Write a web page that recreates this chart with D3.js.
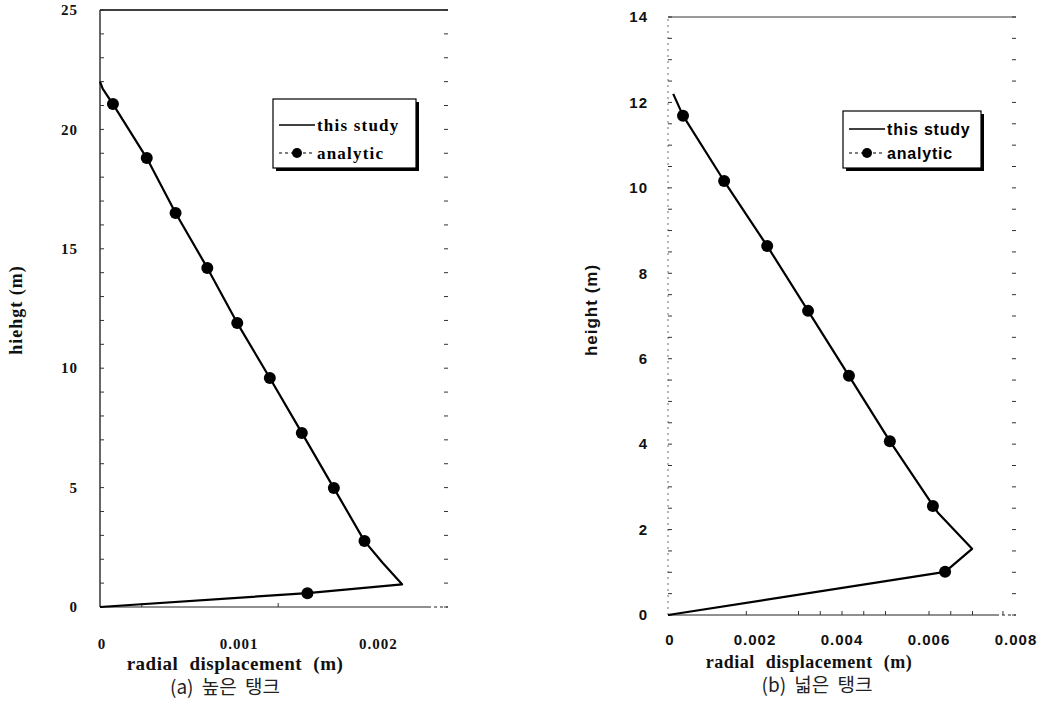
<!DOCTYPE html>
<html><head><meta charset="utf-8">
<script src="https://cdn.jsdelivr.net/npm/d3@7"></script>
<style>body{margin:0;background:#fff}svg{display:block}</style>
</head><body>
<svg id="c" width="1045" height="722"></svg>
<script>
// ---- Data (a) tall tank ----
const aLineX = [0, 0.00149, 0.00217, 0.00203, 0.0019, 0.00168, 0.00145, 0.00122, 0.000986, 0.000771, 0.000543, 0.000336, 0.000093, 0.00002, 0];
const aLineY = [0, 0.58, 0.95, 1.85, 2.76, 4.98, 7.29, 9.59, 11.89, 14.2, 16.5, 18.8, 21.06, 21.7, 22];
const aPtX = [0.00149, 0.0019, 0.00168, 0.00145, 0.00122, 0.000986, 0.000771, 0.000543, 0.000336, 0.000093];
const aPtY = [0.58, 2.76, 4.98, 7.29, 9.59, 11.89, 14.2, 16.5, 18.8, 21.06];
const aXTicks = [0, 0.001, 0.002];
const aXTickLabels = ["0", "0.001", "0.002"];
const aYTicks = [0, 5, 10, 15, 20, 25];
// ---- Data (b) wide tank ----
const bLineX = [0, 0.00637, 0.00699, 0.0062, 0.0051, 0.00416, 0.00322, 0.00228, 0.00129, 0.000345, 0.00012];
const bLineY = [0, 1.01, 1.55, 2.4, 4.07, 5.6, 7.12, 8.64, 10.16, 11.69, 12.2];
const bPtX = [0.00637, 0.00609, 0.0051, 0.00416, 0.00322, 0.00228, 0.00129, 0.000345];
const bPtY = [1.01, 2.55, 4.07, 5.6, 7.12, 8.64, 10.16, 11.69];
const bXTicks = [0, 0.002, 0.004, 0.006, 0.008];
const bXTickLabels = ["0", "0.002", "0.004", "0.006", "0.008"];
const bYTicks = [0, 2, 4, 6, 8, 10, 12, 14];
const seriesNames = ["this study", "analytic"];

const svg = d3.select("#c");
const serif = "'Liberation Serif','Times New Roman',serif";
const sans = "'Liberation Sans',Arial,sans-serif";
const kr = "'Noto Sans CJK KR',sans-serif";

function panel(o) {
  const x = d3.scaleLinear().domain(o.xDom).range(o.xr);
  const y = d3.scaleLinear().domain(o.yDom).range(o.yr);
  const g = svg.append("g");
  g.append("line").attr("x1", o.xr[0]).attr("x2", o.xr[1]).attr("y1", o.yr[1]).attr("y2", o.yr[1])
    .attr("stroke", o.frameColor).attr("stroke-width", 1.5);
  g.append("line").attr("x1", o.xr[0]).attr("x2", o.xr[0]).attr("y1", o.yr[0]).attr("y2", o.yr[1])
    .attr("stroke", o.leftAxisColor).attr("stroke-width", 1.2).attr("stroke-dasharray", o.leftDash || null);
  g.append("line").attr("x1", o.xr[0]).attr("x2", o.xr[1] - 20).attr("y1", o.yr[0]).attr("y2", o.yr[0])
    .attr("stroke", "#222").attr("stroke-width", 1.2);
  g.append("line").attr("x1", o.xr[1] - 20).attr("x2", o.xr[1]).attr("y1", o.yr[0]).attr("y2", o.yr[0])
    .attr("stroke", "#222").attr("stroke-width", 1.2).attr("stroke-dasharray", "3,3");
  const minor = d3.range(o.yDom[0], o.yDom[1] + 1e-9, o.minorStep);
  g.selectAll(".ml").data(minor).join("line")
    .attr("x1", o.xr[0]).attr("x2", o.xr[0] + 4).attr("y1", d => y(d)).attr("y2", d => y(d))
    .attr("stroke", "#333").attr("stroke-width", 1);
  g.selectAll(".mr").data(minor).join("line")
    .attr("x1", o.xr[1] - 4).attr("x2", o.xr[1]).attr("y1", d => y(d)).attr("y2", d => y(d))
    .attr("stroke", "#333").attr("stroke-width", 1);
  g.selectAll(".mx").data(o.xMinor).join("line")
    .attr("x1", d => x(d)).attr("x2", d => x(d)).attr("y1", o.yr[0]).attr("y2", o.yr[0] - 4)
    .attr("stroke", "#333").attr("stroke-width", 1);
  g.selectAll(".yl").data(o.yTicks).join("text")
    .attr("x", o.yLabX).attr("y", d => y(d)).attr("dy", "0.35em").attr("text-anchor", "end")
    .attr("font-family", o.tickFont).attr("font-weight", "bold").attr("font-size", o.tickSize)
    .attr("letter-spacing", "1px").attr("fill", "#111").text(d => d);
  g.selectAll(".xl").data(o.xTicks).join("text")
    .attr("x", d => x(d) + (d === 0 ? 2 : 0)).attr("y", o.xLabY).attr("text-anchor", "middle")
    .attr("font-family", o.tickFont).attr("font-weight", "bold").attr("font-size", o.tickSize)
    .attr("letter-spacing", "1px").attr("fill", "#111").text((d, i) => o.xTickLabels[i]);
  g.append("text").attr("transform", `translate(${o.yTitleX},${o.yTitleY}) rotate(-90)`)
    .attr("text-anchor", "middle").attr("font-family", o.yTitleFont).attr("font-weight", "bold")
    .attr("font-size", o.yTitleSize).attr("letter-spacing", "1px").attr("fill", "#111").text(o.yTitle);
  g.append("text").attr("x", o.xTitleX).attr("y", o.xTitleY).attr("text-anchor", "middle")
    .attr("font-family", serif).attr("font-weight", "bold").attr("font-size", o.xTitleSize)
    .attr("letter-spacing", "0.5px").attr("word-spacing", "6px").attr("fill", "#111")
    .text("radial displacement (m)");
  g.append("text").attr("x", o.capX).attr("y", o.capY).attr("text-anchor", "middle")
    .attr("font-family", kr).attr("font-size", 19).attr("word-spacing", "4px").attr("fill", "#222").text(o.caption);
  const line = d3.line().x(d => x(d[0])).y(d => y(d[1]));
  const ld = o.lx.map((v, i) => [v, o.ly[i]]);
  g.append("path").datum(ld).attr("d", line).attr("fill", "none").attr("stroke", "#000")
    .attr("stroke-width", 2.2).attr("stroke-linejoin", "round");
  g.selectAll(".pt").data(o.px.map((v, i) => [v, o.py[i]])).join("circle")
    .attr("cx", d => x(d[0])).attr("cy", d => y(d[1])).attr("r", 6).attr("fill", "#000");
  const L = o.legend;
  g.append("rect").attr("x", L.x + 3).attr("y", L.y + 3).attr("width", L.w).attr("height", L.h).attr("fill", "#000");
  g.append("rect").attr("x", L.x).attr("y", L.y).attr("width", L.w).attr("height", L.h)
    .attr("fill", "#fff").attr("stroke", "#000").attr("stroke-width", 1.2);
  const r1 = L.r1, r2 = L.r2;
  g.append("line").attr("x1", L.x + 6).attr("x2", L.x + 42).attr("y1", r1).attr("y2", r1)
    .attr("stroke", "#000").attr("stroke-width", 1.5);
  g.append("line").attr("x1", L.x + 6).attr("x2", L.x + 42).attr("y1", r2).attr("y2", r2)
    .attr("stroke", "#000").attr("stroke-width", 1.2).attr("stroke-dasharray", "3,3");
  g.append("circle").attr("cx", L.x + 24).attr("cy", r2).attr("r", 5).attr("fill", "#000");
  g.selectAll(".lt").data(seriesNames).join("text")
    .attr("x", L.x + 44).attr("y", (d, i) => i === 0 ? r1 : r2).attr("dy", "0.35em")
    .attr("font-family", L.font).attr("font-weight", "bold").attr("font-size", L.size)
    .attr("letter-spacing", L.ls).attr("fill", "#000").text(d => d);
}

panel({
  xDom: [0, 0.0025], xr: [100, 448], yDom: [0, 25], yr: [607, 10],
  frameColor: "#000", leftAxisColor: "#000", leftDash: null, minorStep: 1,
  xMinor: [0.0003, 0.00128], yTicks: aYTicks, xTicks: aXTicks, xTickLabels: aXTickLabels,
  tickFont: serif, tickSize: 15, yLabX: 78, xLabY: 649,
  yTitle: "hiehgt (m)", yTitleFont: serif, yTitleSize: 18, yTitleX: 22, yTitleY: 310,
  xTitleX: 235, xTitleY: 670, xTitleSize: 19, caption: "(a) 높은 탱크", capX: 225, capY: 694,
  lx: aLineX, ly: aLineY, px: aPtX, py: aPtY,
  legend: {x: 273, y: 99, w: 143, h: 69, r1: 125, r2: 153, font: serif, size: 17, ls: "1.2px"}
});

panel({
  xDom: [0, 0.008], xr: [668, 1016], yDom: [0, 14], yr: [615, 17],
  frameColor: "#777", leftAxisColor: "#888", leftDash: "2,4", minorStep: 0.5,
  xMinor: [0.0018, 0.003, 0.0035, 0.004, 0.0045, 0.005, 0.006, 0.0065, 0.007, 0.0077], yTicks: bYTicks,
  xTicks: bXTicks, xTickLabels: bXTickLabels,
  tickFont: sans, tickSize: 15, yLabX: 648, xLabY: 645,
  yTitle: "height (m)", yTitleFont: sans, yTitleSize: 17, yTitleX: 597, yTitleY: 310,
  xTitleX: 809, xTitleY: 668, xTitleSize: 18, caption: "(b) 넓은 탱크", capX: 817, capY: 692,
  lx: bLineX, ly: bLineY, px: bPtX, py: bPtY,
  legend: {x: 843, y: 111, w: 138, h: 57, r1: 129, r2: 153, font: sans, size: 16, ls: "0.8px"}
});
</script>
</body></html>
